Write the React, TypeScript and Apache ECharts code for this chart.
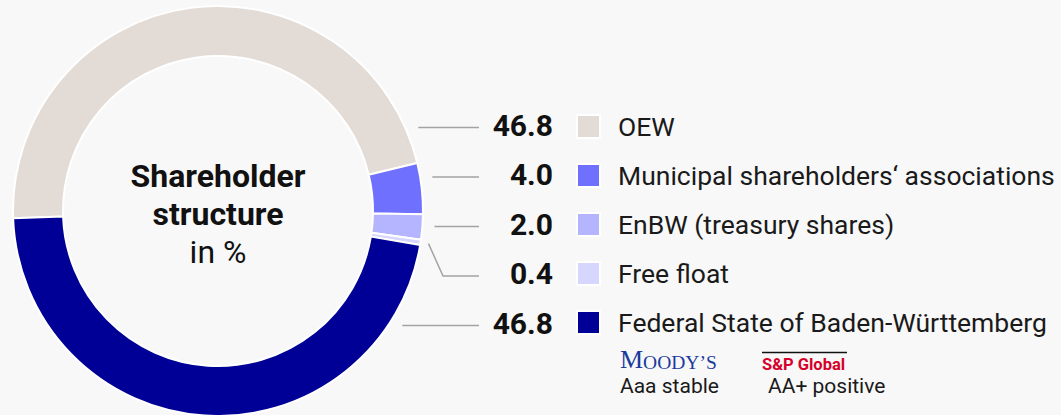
import React, { useEffect, useRef } from 'react';
import * as echarts from 'echarts';

const categories = [
  'OEW',
  'Municipal shareholders‘ associations',
  'EnBW (treasury shares)',
  'Free float',
  'Federal State of Baden-Württemberg',
];
const shares = [46.8, 4.0, 2.0, 0.4, 46.8];
const colors = ['#e3dbd5', '#7070ff', '#b4b4ff', '#d6d6ff', '#000096'];
const ratings = ['Aaa stable', 'AA+ positive'];

const FONT = 'Roboto';
const CX = 218;
const CY = 211;
const R_IN = 155;
const R_OUT = 205;
const START = 182;
const ROW0 = 125;
const ROW_GAP = 49.5;
const LABEL_RIGHT = 553;
const LINE_END = 479;
const ELBOW_X = 443;
const GAP = 12;

export default function App() {
  const ref = useRef<HTMLDivElement>(null);
  useEffect(() => {
    if (!ref.current) return;
    const chart = echarts.init(ref.current, null, { renderer: 'svg' });
    const total = shares.reduce((a, b) => a + b, 0);
    const ranges: [number, number][] = [];
    let acc = START;
    shares.forEach((v) => {
      const s = acc;
      const e = acc - (360 * v) / total;
      ranges.push([s, e]);
      acc = e;
    });
    const norm = (a: number) => ((a % 360) + 360) % 360;
    const within = (a: number, s: number, e: number) => {
      const span = s - e;
      const d = norm(s - a);
      return d <= span;
    };

    chart.setOption({
      animation: false,
      backgroundColor: '#f8f8f8',
      legend: {
        orient: 'vertical',
        left: 576,
        top: 112,
        padding: 0,
        itemWidth: 23,
        itemHeight: 23,
        itemGap: 20,
        icon: 'rect',
        selectedMode: false,
        data: categories,
        textStyle: {
          fontFamily: FONT,
          fontSize: 26.5,
          color: '#1a1a1a',
          padding: [0, 0, 0, 13],
          lineHeight: 29,
        },
      },
      graphic: [
        {
          type: 'text',
          x: CX,
          y: 176,
          style: {
            text: 'Shareholder',
            fontFamily: FONT,
            fontWeight: 'bold',
            fontSize: 32,
            fill: '#111',
            align: 'center',
            verticalAlign: 'middle',
          },
        },
        {
          type: 'text',
          x: CX,
          y: 214,
          style: {
            text: 'structure',
            fontFamily: FONT,
            fontWeight: 'bold',
            fontSize: 32,
            fill: '#111',
            align: 'center',
            verticalAlign: 'middle',
          },
        },
        {
          type: 'text',
          x: CX,
          y: 252,
          style: {
            text: 'in %',
            fontFamily: FONT,
            fontSize: 32,
            fill: '#111',
            align: 'center',
            verticalAlign: 'middle',
          },
        },
        {
          type: 'text',
          x: 620,
          y: 372,
          style: {
            text: '{m|M}{r|OODY’S}',
            verticalAlign: 'bottom',
            rich: {
              m: { fontFamily: 'Liberation Serif', fontSize: 26, fill: '#1b3a9e', verticalAlign: 'bottom', lineHeight: 22 },
              r: { fontFamily: 'Liberation Serif', fontSize: 19.5, fill: '#1b3a9e', verticalAlign: 'bottom', lineHeight: 22 },
            },
          },
        },
        {
          type: 'text',
          x: 620,
          y: 386,
          style: {
            text: ratings[0],
            fontFamily: FONT,
            fontSize: 21,
            fill: '#1a1a1a',
            verticalAlign: 'middle',
          },
        },
        {
          type: 'line',
          shape: { x1: 762, y1: 352.5, x2: 847, y2: 352.5 },
          style: { stroke: '#111', lineWidth: 1.5 },
        },
        {
          type: 'text',
          x: 762,
          y: 364,
          style: {
            text: 'S&P Global',
            fontFamily: FONT,
            fontWeight: 'bold',
            fontSize: 16.5,
            fill: '#d6002a',
            verticalAlign: 'middle',
          },
        },
        {
          type: 'text',
          x: 768,
          y: 386,
          style: {
            text: ratings[1],
            fontFamily: FONT,
            fontSize: 21,
            fill: '#1a1a1a',
            verticalAlign: 'middle',
          },
        },
      ],
      series: [
        {
          type: 'pie',
          center: [CX, CY],
          radius: [R_IN, R_OUT],
          startAngle: START,
          clockwise: true,
          avoidLabelOverlap: false,
          itemStyle: { borderColor: '#ffffff', borderWidth: 2 },
          emphasis: { disabled: true },
          label: {
            show: true,
            position: 'outside',
            formatter: (p: any) => shares[p.dataIndex].toFixed(1),
            fontFamily: FONT,
            fontWeight: 'bold',
            fontSize: 30,
            color: '#111',
          },
          labelLine: {
            show: true,
            lineStyle: { color: '#a3a3a3', width: 1.5 },
          },
          labelLayout: (params: any) => {
            const i = params.dataIndex;
            const y = ROW0 + i * ROW_GAP;
            const ly = y + 2.5;
            const rr = R_OUT + GAP;
            const [s, e] = ranges[i];
            let pts: number[][];
            const dy = ly - CY;
            if (Math.abs(dy) < rr) {
              const theta = (-Math.asin(dy / rr) * 180) / Math.PI;
              if (within(theta, s, e)) {
                const x0 = CX + Math.sqrt(rr * rr - dy * dy);
                pts = [
                  [x0, ly],
                  [(x0 + LINE_END) / 2, ly],
                  [LINE_END, ly],
                ];
              } else {
                const mid = (((s + e) / 2) * Math.PI) / 180;
                const r0 = R_OUT + 8;
                pts = [
                  [CX + r0 * Math.cos(mid), CY - r0 * Math.sin(mid)],
                  [ELBOW_X, ly],
                  [LINE_END, ly],
                ];
              }
            } else {
              pts = [
                [CX, ly],
                [ELBOW_X, ly],
                [LINE_END, ly],
              ];
            }
            return {
              x: LABEL_RIGHT,
              y,
              align: 'right',
              verticalAlign: 'middle',
              labelLinePoints: pts,
            };
          },
          data: categories.map((name, i) => ({
            name,
            value: shares[i],
            itemStyle: { color: colors[i] },
          })),
        },
      ],
    });
    return () => chart.dispose();
  }, []);
  return (
    <div
      ref={ref}
      style={{ position: 'fixed', left: 0, top: 0, width: 1061, height: 415 }}
    />
  );
}
